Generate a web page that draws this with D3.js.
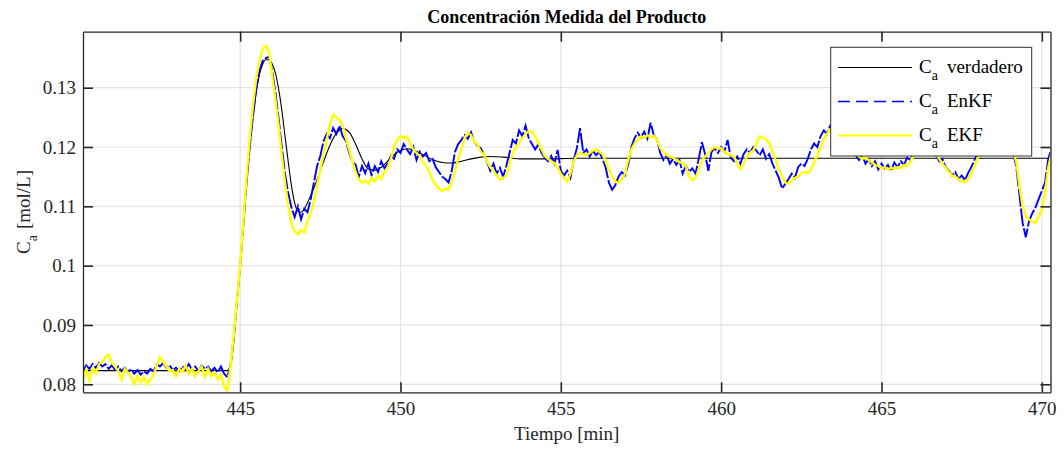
<!DOCTYPE html>
<html>
<head>
<meta charset="utf-8">
<script src="https://cdn.jsdelivr.net/npm/d3@7"></script>
<style>
body { margin: 0; background: #fff; }
svg text { font-family: "Liberation Serif", "Times New Roman", serif; }
</style>
</head>
<body>
<div id="chart"></div>
<script>
const w = 1064
const h = 450
const m = {left: 83, right: 1050.5, top: 31.7, bottom: 392.3}

// sampling of the estimator series (min)
const tStart = 440.1
const tStep = 0.1

const xTicks = [445, 450, 455, 460, 465, 470]
const yTicks = [0.08, 0.09, 0.1, 0.11, 0.12, 0.13]
const seriesNames = ['verdadero', 'EnKF', 'EKF']

// true concentration
const trueT = [440.1, 444.6, 444.7, 444.8, 444.9, 445.0, 445.1, 445.2, 445.3, 445.4, 445.5, 445.6, 445.7, 445.8, 445.9,
    446.0, 446.1, 446.2, 446.3, 446.4, 446.5, 446.6, 446.7, 446.8, 446.9, 447.0, 447.2, 447.4, 447.6, 447.8,
    448.0, 448.2, 448.4, 448.6, 448.8, 449.0, 449.2, 449.4, 449.6, 449.8, 450.0, 450.2, 450.4, 450.7, 451.0,
    451.3, 451.6, 451.9, 452.2, 452.5, 452.8, 453.2, 453.8, 454.5, 455.5, 470.3]
const trueC = [0.0823, 0.0823, 0.0830, 0.0870, 0.0935, 0.1000, 0.1070, 0.1140, 0.1200, 0.1250, 0.1293, 0.1322, 0.1339, 0.1347, 0.1347,
    0.1340, 0.1325, 0.1298, 0.1262, 0.1218, 0.1175, 0.1135, 0.1106, 0.1092, 0.1090, 0.1096, 0.1118, 0.1145, 0.1175, 0.1203,
    0.1223, 0.1231, 0.1225, 0.1205, 0.1180, 0.1163, 0.1161, 0.1166, 0.1176, 0.1187, 0.1194, 0.1197, 0.1195, 0.1187, 0.1179,
    0.1174, 0.1173, 0.1176, 0.1180, 0.1183, 0.1184, 0.1183, 0.1180, 0.1180, 0.1181, 0.1181]

// EnKF estimate, one value every tStep from tStart
const enkf = [
    0.0822, 0.0832, 0.0826, 0.0834, 0.0828, 0.0836, 0.0830, 0.0834, 0.0826, 0.0832,
    0.0824, 0.0830, 0.0822, 0.0828, 0.0820, 0.0826, 0.0818, 0.0824, 0.0816, 0.0822,
    0.0818, 0.0826, 0.0822, 0.0834, 0.0830, 0.0836, 0.0828, 0.0832, 0.0824, 0.0828,
    0.0822, 0.0830, 0.0826, 0.0834, 0.0824, 0.0830, 0.0822, 0.0832, 0.0826, 0.0830,
    0.0822, 0.0828, 0.0820, 0.0830, 0.0818, 0.0812, 0.0832, 0.0880, 0.0940, 0.0998,
    0.1068, 0.1140, 0.1200, 0.1252, 0.1296, 0.1328, 0.1345, 0.1350, 0.1352, 0.1328,
    0.1292, 0.1248, 0.1200, 0.1155, 0.1122, 0.1098, 0.1082, 0.1100, 0.1078, 0.1096,
    0.1090, 0.1112, 0.1140, 0.1168, 0.1185, 0.1210, 0.1222, 0.1215, 0.1232, 0.1222,
    0.1236, 0.1218, 0.1210, 0.1190, 0.1176, 0.1170, 0.1150, 0.1168, 0.1156, 0.1172,
    0.1152, 0.1168, 0.1158, 0.1176, 0.1164, 0.1172, 0.1185, 0.1180, 0.1196, 0.1190,
    0.1205, 0.1196, 0.1188, 0.1200, 0.1178, 0.1192, 0.1184, 0.1190, 0.1176, 0.1180,
    0.1166, 0.1158, 0.1150, 0.1146, 0.1140, 0.1160, 0.1192, 0.1205, 0.1212, 0.1220,
    0.1214, 0.1225, 0.1210, 0.1202, 0.1198, 0.1188, 0.1175, 0.1160, 0.1172, 0.1155,
    0.1165, 0.1150, 0.1168, 0.1190, 0.1212, 0.1206, 0.1228, 0.1218, 0.1236, 0.1215,
    0.1205, 0.1196, 0.1204, 0.1190, 0.1182, 0.1176, 0.1185, 0.1172, 0.1195, 0.1160,
    0.1152, 0.1160, 0.1148, 0.1178, 0.1198, 0.1232, 0.1190, 0.1196, 0.1184, 0.1194,
    0.1186, 0.1192, 0.1180, 0.1165, 0.1140, 0.1128, 0.1136, 0.1150, 0.1158, 0.1152,
    0.1170, 0.1200, 0.1215, 0.1224, 0.1216, 0.1226, 0.1214, 0.1241, 0.1220, 0.1212,
    0.1190, 0.1178, 0.1186, 0.1172, 0.1180, 0.1170, 0.1178, 0.1155, 0.1168, 0.1158,
    0.1164, 0.1155, 0.1180, 0.1208, 0.1188, 0.1160, 0.1192, 0.1198, 0.1190, 0.1200,
    0.1192, 0.1212, 0.1182, 0.1176, 0.1184, 0.1172, 0.1188, 0.1196, 0.1190, 0.1200,
    0.1194, 0.1186, 0.1196, 0.1180, 0.1188, 0.1172, 0.1160, 0.1148, 0.1130, 0.1138,
    0.1146, 0.1155, 0.1148, 0.1166, 0.1172, 0.1168, 0.1180, 0.1196, 0.1206, 0.1200,
    0.1218, 0.1228, 0.1222, 0.1236, 0.1226, 0.1220, 0.1212, 0.1205, 0.1198, 0.1190,
    0.1194, 0.1186, 0.1178, 0.1186, 0.1172, 0.1180, 0.1168, 0.1176, 0.1162, 0.1172,
    0.1164, 0.1170, 0.1160, 0.1174, 0.1166, 0.1176, 0.1170, 0.1182, 0.1178, 0.1190,
    0.1196, 0.1204, 0.1198, 0.1206, 0.1194, 0.1198, 0.1186, 0.1176, 0.1180, 0.1166,
    0.1160, 0.1152, 0.1158, 0.1146, 0.1152, 0.1144, 0.1156, 0.1166, 0.1178, 0.1190,
    0.1198, 0.1206, 0.1200, 0.1210, 0.1202, 0.1196, 0.1200, 0.1192, 0.1186, 0.1190,
    0.1190, 0.1168, 0.1120, 0.1072, 0.1048, 0.1075, 0.1088, 0.1098, 0.1112, 0.1126,
    0.1140, 0.1180, 0.1198]

// EKF estimate, same sampling
const ekf = [
    0.0810, 0.0825, 0.0806, 0.0828, 0.0818, 0.0834, 0.0838, 0.0846, 0.0850, 0.0836,
    0.0830, 0.0822, 0.0808, 0.0826, 0.0820, 0.0812, 0.0800, 0.0815, 0.0803, 0.0812,
    0.0800, 0.0808, 0.0816, 0.0832, 0.0846, 0.0838, 0.0830, 0.0822, 0.0824, 0.0814,
    0.0826, 0.0820, 0.0832, 0.0818, 0.0826, 0.0814, 0.0822, 0.0830, 0.0812, 0.0826,
    0.0814, 0.0820, 0.0808, 0.0816, 0.0796, 0.0790, 0.0830, 0.0882, 0.0942, 0.1000,
    0.1075, 0.1150, 0.1215, 0.1270, 0.1315, 0.1345, 0.1364, 0.1371, 0.1360, 0.1320,
    0.1280, 0.1236, 0.1185, 0.1140, 0.1100, 0.1070, 0.1058, 0.1053, 0.1060, 0.1056,
    0.1075, 0.1090, 0.1108, 0.1135, 0.1162, 0.1188, 0.1213, 0.1238, 0.1255, 0.1250,
    0.1245, 0.1236, 0.1215, 0.1195, 0.1176, 0.1158, 0.1145, 0.1140, 0.1143, 0.1138,
    0.1148, 0.1142, 0.1152, 0.1146, 0.1158, 0.1165, 0.1180, 0.1200, 0.1212, 0.1218,
    0.1215, 0.1218, 0.1206, 0.1196, 0.1190, 0.1185, 0.1175, 0.1168, 0.1158, 0.1145,
    0.1136, 0.1130, 0.1126, 0.1130, 0.1128, 0.1142, 0.1160, 0.1180, 0.1198, 0.1215,
    0.1224, 0.1220, 0.1210, 0.1204, 0.1192, 0.1188, 0.1176, 0.1166, 0.1160, 0.1152,
    0.1145, 0.1148, 0.1152, 0.1172, 0.1190, 0.1200, 0.1207, 0.1215, 0.1222, 0.1227,
    0.1226, 0.1218, 0.1207, 0.1196, 0.1185, 0.1180, 0.1176, 0.1173, 0.1165, 0.1155,
    0.1148, 0.1142, 0.1155, 0.1176, 0.1186, 0.1190, 0.1188, 0.1186, 0.1190, 0.1194,
    0.1196, 0.1192, 0.1188, 0.1176, 0.1162, 0.1150, 0.1142, 0.1140, 0.1146, 0.1155,
    0.1178, 0.1196, 0.1206, 0.1212, 0.1218, 0.1215, 0.1220, 0.1216, 0.1219, 0.1212,
    0.1198, 0.1192, 0.1186, 0.1184, 0.1182, 0.1178, 0.1175, 0.1172, 0.1168, 0.1150,
    0.1144, 0.1148, 0.1162, 0.1178, 0.1184, 0.1190, 0.1196, 0.1200, 0.1197, 0.1198,
    0.1192, 0.1188, 0.1186, 0.1184, 0.1172, 0.1162, 0.1172, 0.1184, 0.1190, 0.1194,
    0.1206, 0.1218, 0.1215, 0.1213, 0.1206, 0.1192, 0.1178, 0.1162, 0.1150, 0.1140,
    0.1138, 0.1144, 0.1148, 0.1150, 0.1156, 0.1158, 0.1156, 0.1162, 0.1175, 0.1186,
    0.1200, 0.1213, 0.1222, 0.1230, 0.1232, 0.1228, 0.1222, 0.1214, 0.1205, 0.1196,
    0.1192, 0.1188, 0.1184, 0.1180, 0.1182, 0.1178, 0.1174, 0.1170, 0.1168, 0.1164,
    0.1166, 0.1162, 0.1165, 0.1163, 0.1166, 0.1164, 0.1170, 0.1168, 0.1176, 0.1184,
    0.1192, 0.1198, 0.1202, 0.1200, 0.1196, 0.1192, 0.1188, 0.1180, 0.1172, 0.1165,
    0.1158, 0.1152, 0.1150, 0.1146, 0.1142, 0.1140, 0.1146, 0.1155, 0.1168, 0.1182,
    0.1194, 0.1202, 0.1206, 0.1208, 0.1206, 0.1204, 0.1200, 0.1198, 0.1196, 0.1194,
    0.1192, 0.1176, 0.1135, 0.1100, 0.1084, 0.1078, 0.1074, 0.1072, 0.1082, 0.1095,
    0.1125, 0.1165, 0.1190]

const svg = d3.select('#chart')
    .append('svg')
    .attr('width', w)
    .attr('height', h)

const x = d3.scaleLinear().domain([440.1, 470.27]).range([m.left, m.right])
const y = d3.scaleLinear().domain([0.07865, 0.13944]).range([m.bottom, m.top])

// grid
svg.append('g')
    .selectAll('line')
    .data(xTicks)
    .enter()
    .append('line')
    .attr('x1', d => x(d)).attr('x2', d => x(d))
    .attr('y1', m.top).attr('y2', m.bottom)
    .attr('stroke', '#e3e3e3')
    .attr('stroke-width', 1.2)

svg.append('g')
    .selectAll('line')
    .data(yTicks)
    .enter()
    .append('line')
    .attr('x1', m.left).attr('x2', m.right)
    .attr('y1', d => y(d)).attr('y2', d => y(d))
    .attr('stroke', '#e3e3e3')
    .attr('stroke-width', 1.2)

svg.append('clipPath')
    .attr('id', 'plotclip')
    .append('rect')
    .attr('x', m.left).attr('y', m.top)
    .attr('width', m.right - m.left).attr('height', m.bottom - m.top)

const plot = svg.append('g').attr('clip-path', 'url(#plotclip)')

const trueLine = d3.line()
    .x((d, i) => x(trueT[i]))
    .y(d => y(d))
    .curve(d3.curveMonotoneX)

const estLine = d3.line()
    .x((d, i) => x(tStart + i * tStep))
    .y(d => y(d))

plot.append('path')
    .attr('d', trueLine(trueC))
    .attr('fill', 'none')
    .attr('stroke', '#000')
    .attr('stroke-width', 1.1)

plot.append('path')
    .attr('d', estLine(enkf))
    .attr('fill', 'none')
    .attr('stroke', '#0000ff')
    .attr('stroke-width', 1.9)
    .attr('stroke-dasharray', '18,2')

plot.append('path')
    .attr('d', estLine(ekf))
    .attr('fill', 'none')
    .attr('stroke', '#ffff00')
    .attr('stroke-width', 2.4)

// axes (box with inward ticks)
const axisColor = '#262626'
const styleAxis = g => {
    g.attr('color', axisColor)
        .attr('font-family', '"Liberation Serif", "Times New Roman", serif')
        .attr('font-size', 19)
    g.selectAll('.tick line').attr('stroke-width', 1.6)
    g.select('.domain').attr('stroke-width', 1.3)
}

svg.append('g')
    .attr('transform', `translate(0,${m.bottom})`)
    .call(d3.axisBottom(x).tickValues(xTicks).tickSize(-10).tickSizeOuter(0).tickPadding(9).tickFormat(d3.format('d')))
    .call(styleAxis)

svg.append('g')
    .attr('transform', `translate(0,${m.top})`)
    .call(d3.axisTop(x).tickValues(xTicks).tickSize(-10).tickSizeOuter(0).tickFormat(''))
    .call(styleAxis)

svg.append('g')
    .attr('transform', `translate(${m.left},0)`)
    .call(d3.axisLeft(y).tickValues(yTicks).tickSize(-10).tickSizeOuter(0).tickPadding(7).tickFormat(d => String(+d.toFixed(2))))
    .call(styleAxis)

svg.append('g')
    .attr('transform', `translate(${m.right},0)`)
    .call(d3.axisRight(y).tickValues(yTicks).tickSize(-10).tickSizeOuter(0).tickFormat(''))
    .call(styleAxis)

// title and labels
svg.append('text')
    .attr('x', (m.left + m.right) / 2)
    .attr('y', 23)
    .attr('text-anchor', 'middle')
    .attr('font-size', 18)
    .attr('font-weight', 'bold')
    .attr('fill', '#000')
    .text('Concentración Medida del Producto')

svg.append('text')
    .attr('x', (m.left + m.right) / 2)
    .attr('y', 440)
    .attr('text-anchor', 'middle')
    .attr('font-size', 19)
    .attr('fill', axisColor)
    .text('Tiempo [min]')

const yl = svg.append('text')
    .attr('transform', `translate(30,${(m.top + m.bottom) / 2}) rotate(-90)`)
    .attr('text-anchor', 'middle')
    .attr('font-size', 19)
    .attr('fill', axisColor)
yl.append('tspan').text('C')
yl.append('tspan').attr('font-size', 14).attr('dy', 7).text('a')
yl.append('tspan').attr('dy', -7).attr('dx', 6).text('[mol/L]')

// legend
const lg = svg.append('g')
lg.append('rect')
    .attr('x', 830.7).attr('y', 47.3)
    .attr('width', 201).attr('height', 108.7)
    .attr('fill', '#fff')
    .attr('stroke', '#333')
    .attr('stroke-width', 1)

const legendStyles = [
    {stroke: '#000', dash: null, width: 1.2},
    {stroke: '#0000ff', dash: '12,6', width: 1.5},
    {stroke: '#ffff00', dash: null, width: 2}
]

seriesNames.forEach((name, i) => {
    const ry = 67.5 + i * 34
    lg.append('line')
        .attr('x1', 838).attr('x2', 912)
        .attr('y1', ry).attr('y2', ry)
        .attr('stroke', legendStyles[i].stroke)
        .attr('stroke-width', legendStyles[i].width)
        .attr('stroke-dasharray', legendStyles[i].dash)
    const t = lg.append('text')
        .attr('x', 919)
        .attr('y', ry + 5.5)
        .attr('font-size', 19)
        .attr('fill', '#000')
    t.append('tspan').text('C')
    t.append('tspan').attr('font-size', 14).attr('dy', 7).text('a')
    t.append('tspan').attr('dy', -7).attr('dx', 9).text(name)
})
</script>
</body>
</html>
